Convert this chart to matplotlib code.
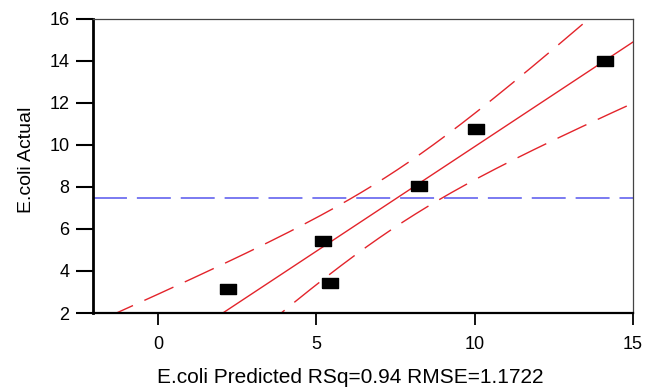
import numpy as np
import matplotlib
matplotlib.use("Agg")
import matplotlib.pyplot as plt

plt.rcParams['font.family'] = ['Liberation Sans', 'DejaVu Sans']

# E.coli predicted vs actual
predicted = np.array([2.19, 5.20, 5.43, 8.25, 10.03, 14.10])
actual = np.array([3.14, 5.43, 3.43, 8.05, 10.76, 14.00])
t_crit = 2.776  # t(0.975, df=4)

x_ticks = [0, 5, 10, 15]
y_ticks = [2, 4, 6, 8, 10, 12, 14, 16]

# least squares fit of actual on predicted, with 95% confidence band
n = len(predicted)
xbar, ybar = predicted.mean(), actual.mean()
sxx = np.sum((predicted - xbar) ** 2)
slope = np.sum((predicted - xbar) * (actual - ybar)) / sxx
icpt = ybar - slope * xbar
resid = actual - (icpt + slope * predicted)
s = np.sqrt(np.sum(resid ** 2) / (n - 2))
rsq = 1 - np.sum(resid ** 2) / np.sum((actual - ybar) ** 2)

xx = np.linspace(-3, 16, 300)
yy = icpt + slope * xx
half = t_crit * s * np.sqrt(1 / n + (xx - xbar) ** 2 / sxx)

fig = plt.figure(figsize=(6.45, 3.87), dpi=100)
ax = fig.add_axes([0.1442, 0.1912, 0.8372, 0.7598])

red = '#e3242b'
ax.axhline(ybar, color='#6f6ff0', lw=1.3, dashes=(18.8, 5.5))
ax.plot(xx, yy, color=red, lw=1.0)
ax.plot(xx, yy + half, color=red, lw=1.0, dashes=(23, 9))
ax.plot(xx, yy - half, color=red, lw=1.0, dashes=(23, 9))

rect = [(-1, -0.62), (1, -0.62), (1, 0.62), (-1, 0.62), (-1, -0.62)]
ax.plot(predicted, actual, ls='none', marker=rect, ms=11.5,
        color='black', zorder=5)

ax.set_xlim(-2.06, 15)
ax.set_ylim(2, 16)
ax.set_xticks(x_ticks)
ax.set_yticks(y_ticks)

ax.spines['left'].set_linewidth(2.0)
ax.spines['bottom'].set_linewidth(1.6)
for side in ['top', 'right']:
    ax.spines[side].set_linewidth(0.9)
    ax.spines[side].set_color('#444444')

ax.tick_params(axis='y', length=12, width=1.5, pad=5, labelsize=13)
ax.tick_params(axis='x', length=8.5, width=1.3, pad=8, labelsize=13)

ax.set_xlabel('E.coli Predicted RSq=%.2f RMSE=1.1722' % rsq, fontsize=15,
              labelpad=11, x=0.476)
ax.set_ylabel('E.coli Actual', fontsize=14, labelpad=10, y=0.52)

fig.savefig('out.png', dpi=100)
